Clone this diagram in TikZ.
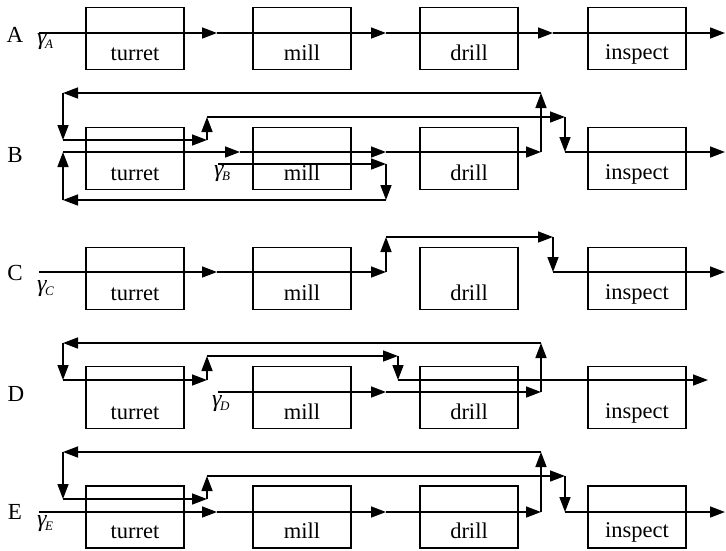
\documentclass[tikz,border=0pt]{standalone}
\usepackage{fontspec}
\setmainfont{Liberation Serif}
\usetikzlibrary{arrows.meta}
\newcommand\gsub[1]{{\itshape γ\kern-1.5pt\raisebox{-4pt}{\fontsize{13}{13}\selectfont #1}}}
\begin{document}
\begin{tikzpicture}[x=1pt,y=-1pt,
  box/.style={draw, line width=1.4pt, minimum width=98pt, minimum height=62pt, inner sep=0pt},
  lbl/.style={font=\fontsize{22.5}{26}\selectfont, inner sep=0pt, anchor=base},
  rowlbl/.style={font=\fontsize{23}{26}\selectfont, inner sep=0pt},
  gam/.style={font=\fontsize{24}{26}\selectfont, inner sep=0pt, anchor=north west},
  arr/.style={line width=1.5pt, -{Triangle[length=15pt,width=11pt]}}]
\useasboundingbox (0,0) rectangle (726,550);

% ---------- boxes ----------
\foreach \r/\y in {A/38.5,B/158.5,C/278.5,D/397.5,E/517}{
  \node[box] (\r1) at (135,\y) {};
  \node[box] (\r2) at (302,\y) {};
  \node[box] (\r3) at (469,\y) {};
  \node[box] (\r4) at (637,\y) {};
  \node[lbl] (\r1t) at ([yshift=10pt]\r1.south) {turret};
  \node[lbl] (\r2t) at ([yshift=10pt]\r2.south) {mill};
  \node[lbl] (\r3t) at ([yshift=10pt]\r3.south) {drill};
  \node[lbl] (\r4t) at ([yshift=11pt]\r4.south) {inspect};
}

% ---------- row labels ----------
\node[rowlbl] (LA) at (15,35) {A};
\node[rowlbl] (LB) at (15,155) {B};
\node[rowlbl] (LC) at (15,273) {C};
\node[rowlbl] (LD) at (16,394) {D};
\node[rowlbl] (LE) at (15,512) {E};

\node[gam] (gA) at (37,33) {\gsub{A}};
\node[gam] (gB) at (214,165) {\gsub{B}};
\node[gam] (gC) at (37,280) {\gsub{C}};
\node[gam] (gD) at (212,395) {\gsub{D}};
\node[gam] (gE) at (37,515) {\gsub{E}};

% ---------- row A ----------
\coordinate (a0) at (39,33);
\coordinate (a1) at (217,33);
\coordinate (a2) at (386,33);
\coordinate (a3) at (553,33);
\coordinate (a4) at (725,33);
\draw[arr] (a0) -- (a1);
\draw[arr] (a1) -- (a2);
\draw[arr] (a2) -- (a3);
\draw[arr] (a3) -- (a4);

% ---------- row B ----------
\coordinate (b0) at (63,152);
\coordinate (b1) at (240,152);
\coordinate (b2) at (386,152);
\coordinate (b3) at (541,152);
\coordinate (b4) at (541,93);
\coordinate (b5) at (63,93);
\coordinate (b6) at (63,140);
\coordinate (b7) at (207,140);
\coordinate (b8) at (207,117);
\coordinate (b9) at (565,117);
\coordinate (b10) at (565,152);
\coordinate (b11) at (725,152);
\coordinate (bg0) at (218,164);
\coordinate (bg1) at (386,164);
\coordinate (bg2) at (386,200);
\coordinate (bg3) at (63,200);
\draw[arr] (b0) -- (b1);
\draw[arr] (b1) -- (b2);
\draw[arr] (b2) -- (b3);
\draw[arr] (b3) -- (b4);
\draw[arr] (b4) -- (b5);
\draw[arr] (b5) -- (b6);
\draw[arr] (b6) -- (b7);
\draw[arr] (b7) -- (b8);
\draw[arr] (b8) -- (b9);
\draw[arr] (b9) -- (b10);
\draw[arr] (b10) -- (b11);
\draw[arr] (bg0) -- (bg1);
\draw[arr] (bg1) -- (bg2);
\draw[arr] (bg2) -- (bg3);
\draw[arr] (bg3) -- (b0);

% ---------- row C ----------
\coordinate (c0) at (39,272);
\coordinate (c1) at (217,272);
\coordinate (c2) at (386,272);
\coordinate (c3) at (386,237);
\coordinate (c4) at (553,237);
\coordinate (c5) at (553,272);
\coordinate (c6) at (725,272);
\draw[arr] (c0) -- (c1);
\draw[arr] (c1) -- (c2);
\draw[arr] (c2) -- (c3);
\draw[arr] (c3) -- (c4);
\draw[arr] (c4) -- (c5);
\draw[arr] (c5) -- (c6);

% ---------- row D ----------
\coordinate (d0) at (218,392);
\coordinate (d1) at (386,392);
\coordinate (d2) at (541,392);
\coordinate (d3) at (541,343);
\coordinate (d4) at (63,343);
\coordinate (d5) at (63,380);
\coordinate (d6) at (207,380);
\coordinate (d7) at (207,356);
\coordinate (d8) at (398,356);
\coordinate (d9) at (398,380);
\coordinate (d10) at (708,380);
\draw[arr] (d0) -- (d1);
\draw[arr] (d1) -- (d2);
\draw[arr] (d2) -- (d3);
\draw[arr] (d3) -- (d4);
\draw[arr] (d4) -- (d5);
\draw[arr] (d5) -- (d6);
\draw[arr] (d6) -- (d7);
\draw[arr] (d7) -- (d8);
\draw[arr] (d8) -- (d9);
\draw[arr] (d9) -- (d10);

% ---------- row E ----------
\coordinate (e0) at (39,512);
\coordinate (e1) at (217,512);
\coordinate (e2) at (386,512);
\coordinate (e3) at (541,512);
\coordinate (e4) at (541,452);
\coordinate (e5) at (63,452);
\coordinate (e6) at (63,499);
\coordinate (e7) at (207,499);
\coordinate (e8) at (207,476);
\coordinate (e9) at (565,476);
\coordinate (e10) at (565,512);
\coordinate (e11) at (725,512);
\draw[arr] (e0) -- (e1);
\draw[arr] (e1) -- (e2);
\draw[arr] (e2) -- (e3);
\draw[arr] (e3) -- (e4);
\draw[arr] (e4) -- (e5);
\draw[arr] (e5) -- (e6);
\draw[arr] (e6) -- (e7);
\draw[arr] (e7) -- (e8);
\draw[arr] (e8) -- (e9);
\draw[arr] (e9) -- (e10);
\draw[arr] (e10) -- (e11);
\end{tikzpicture}
\end{document}
